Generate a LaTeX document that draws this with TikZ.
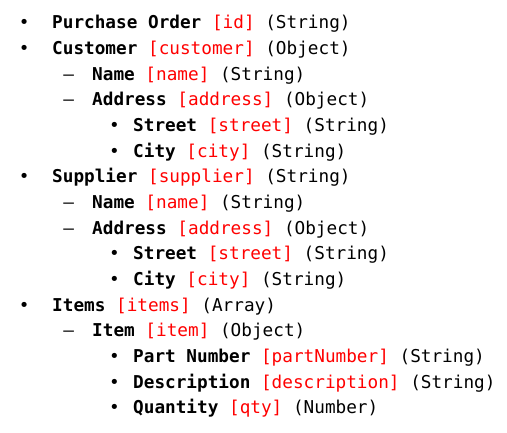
\documentclass[tikz,border=0pt]{standalone}
\usepackage{fontspec}
\setmonofont{DejaVu Sans Mono}
\usepackage{xcolor}
\newcommand{\fld}[3]{\textbf{#1} \textcolor{red}{[#2]} (#3)}
\tikzset{
  entry/.style={anchor=base west,inner sep=0pt,font=\ttfamily\fontsize{17.7}{20}\selectfont},
  dotmark/.style={entry},
}

\begin{document}
\begin{tikzpicture}[x=1pt,y=1pt]
    \useasboundingbox (0,0) rectangle (507,433);
    % purchase order
    \node[dotmark] (b1) at (18.7,404) {•};
    \node[entry] (po) at (52,404) {\fld{Purchase Order}{id}{String}};
    % customer
    \node[dotmark] (b2) at (18.7,378.4) {•};
    \node[entry] (cust) at (52,378.4) {\fld{Customer}{customer}{Object}};
    \node[dotmark] (b3) at (63.2,352.7) {–};
    \node[entry] (custname) at (92,352.7) {\fld{Name}{name}{String}};
    \node[dotmark] (b4) at (63.2,327) {–};
    \node[entry] (custaddr) at (92,327) {\fld{Address}{address}{Object}};
    \node[dotmark] (b5) at (109,301.4) {•};
    \node[entry] (custstreet) at (133,301.4) {\fld{Street}{street}{String}};
    \node[dotmark] (b6) at (109,275.7) {•};
    \node[entry] (custcity) at (133,275.7) {\fld{City}{city}{String}};
    % supplier
    \node[dotmark] (b7) at (18.7,250) {•};
    \node[entry] (supp) at (52,250) {\fld{Supplier}{supplier}{String}};
    \node[dotmark] (b8) at (63.2,224.4) {–};
    \node[entry] (suppname) at (92,224.4) {\fld{Name}{name}{String}};
    \node[dotmark] (b9) at (63.2,198.7) {–};
    \node[entry] (suppaddr) at (92,198.7) {\fld{Address}{address}{Object}};
    \node[dotmark] (b10) at (109,173) {•};
    \node[entry] (suppstreet) at (133,173) {\fld{Street}{street}{String}};
    \node[dotmark] (b11) at (109,147.4) {•};
    \node[entry] (suppcity) at (133,147.4) {\fld{City}{city}{String}};
    % items
    \node[dotmark] (b12) at (18.7,121.7) {•};
    \node[entry] (items) at (52,121.7) {\fld{Items}{items}{Array}};
    \node[dotmark] (b13) at (63.2,96) {–};
    \node[entry] (item) at (92,96) {\fld{Item}{item}{Object}};
    \node[dotmark] (b14) at (109,70.4) {•};
    \node[entry] (partno) at (133,70.4) {\fld{Part Number}{partNumber}{String}};
    \node[dotmark] (b15) at (109,44.7) {•};
    \node[entry] (descr) at (133,44.7) {\fld{Description}{description}{String}};
    \node[dotmark] (b16) at (109,19) {•};
    \node[entry] (qty) at (133,19) {\fld{Quantity}{qty}{Number}};
\end{tikzpicture}
\end{document}
